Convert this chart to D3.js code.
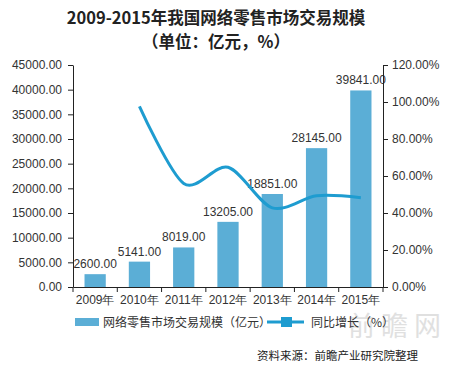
<!DOCTYPE html>
<html><head><meta charset="utf-8">
<script src="https://cdn.jsdelivr.net/npm/d3@7"></script>
<style>body{margin:0;background:#fff;} svg{display:block;}</style>
</head><body>
<script>
const years = ["2009年","2010年","2011年","2012年","2013年","2014年","2015年"];
const sales = [2600, 5141, 8019, 13205, 18851, 28145, 39841];
const growthYears = ["2010年","2011年","2012年","2013年","2014年","2015年"];
const growth = [97.7, 56.0, 64.7, 42.8, 49.3, 48.3];
const leftTicks = [0,5000,10000,15000,20000,25000,30000,35000,40000,45000];
const rightTicks = [0,20,40,60,80,100,120];

(function(){
const W=463,H=366;
const svg=d3.select("body").append("svg").attr("width",W).attr("height",H)
  .style("font-family","'Liberation Sans', Arial, 'Noto Sans CJK SC', sans-serif");
const pL=73,pR=383,pT=65,pB=287;
const x=d3.scaleBand().domain(years).range([pL,pR]).paddingInner(0.52).paddingOuter(0.26);
const y=d3.scaleLinear().domain([0,45000]).range([pB,pT]);
const y2=d3.scaleLinear().domain([0,120]).range([pB,pT]);
const barColor="#5BAED6", lineColor="#1E9CD0", txt="#333";

// title
svg.append("text").attr("x",216).attr("y",24).attr("text-anchor","middle")
  .style("font-family","'Noto Sans CJK SC',sans-serif").attr("font-weight","bold").attr("font-size",16.5).attr("fill","#222")
  .text("2009-2015年我国网络零售市场交易规模");
svg.append("text").attr("x",216).attr("y",48).attr("text-anchor","middle")
  .style("font-family","'Noto Sans CJK SC',sans-serif").attr("font-weight","bold").attr("font-size",16.5).attr("fill","#222")
  .text("（单位：亿元，%）");

// watermark
svg.append("text").attr("x",348).attr("y",336).style("font-family","'Noto Sans CJK SC',sans-serif")
  .attr("font-size",27).attr("fill","#c8c8c8").attr("opacity",0.55).attr("letter-spacing",6).text("前瞻网");

// bars
svg.append("g").selectAll("rect").data(sales).join("rect")
  .attr("x",(d,i)=>x(years[i])).attr("width",x.bandwidth())
  .attr("y",d=>y(d)).attr("height",d=>pB-y(d)).attr("fill",barColor);
svg.append("g").selectAll("text").data(sales).join("text")
  .attr("x",(d,i)=>x(years[i])+x.bandwidth()/2).attr("y",d=>y(d)-6)
  .attr("text-anchor","middle").attr("font-size",12).attr("fill",txt)
  .text(d=>d3.format(".2f")(d));

// axes
const axL=svg.append("g").attr("transform",`translate(${pL},0)`)
  .call(d3.axisLeft(y).tickValues(leftTicks).tickFormat(d3.format(".2f")).tickSize(5).tickPadding(6).tickSizeOuter(0));
const axR=svg.append("g").attr("transform",`translate(${pR},0)`)
  .call(d3.axisRight(y2).tickValues(rightTicks).tickFormat(d=>d3.format(".2f")(d)+"%").tickSize(5).tickPadding(4).tickSizeOuter(0));
const axB=svg.append("g").attr("transform",`translate(0,${pB})`)
  .call(d3.axisBottom(x).tickSize(0).tickPadding(8).tickSizeOuter(0));
const step=x.step();
svg.append("g").selectAll("line").data(d3.range(years.length+1)).join("line")
  .attr("x1",i=>pL+i*step).attr("x2",i=>pL+i*step).attr("y1",pB).attr("y2",pB+5)
  .attr("stroke","#222");
[axL,axR,axB].forEach(g=>{
  g.selectAll("path,line").attr("stroke","#222");
  g.selectAll("text").attr("font-size",12).attr("fill",txt);
});

// line
const line=d3.line().x((d,i)=>x(growthYears[i])+x.bandwidth()/2).y(d=>y2(d)).curve(d3.curveCardinal.tension(0.1));
svg.append("path").datum(growth).attr("d",line).attr("fill","none").attr("stroke",lineColor).attr("stroke-width",3);

// legend
svg.append("rect").attr("x",75).attr("y",318).attr("width",24).attr("height",8).attr("fill",barColor);
svg.append("text").attr("x",103).attr("y",327).attr("font-size",12).attr("fill",txt)
  .style("font-family","'Noto Sans CJK SC',sans-serif").text("网络零售市场交易规模（亿元）");
svg.append("line").attr("x1",267).attr("x2",304).attr("y1",322).attr("y2",322).attr("stroke",lineColor).attr("stroke-width",3);
svg.append("rect").attr("x",281).attr("y",317).attr("width",11).attr("height",10).attr("fill",lineColor);
svg.append("text").attr("x",311).attr("y",327).attr("font-size",12).attr("fill",txt)
  .style("font-family","'Noto Sans CJK SC',sans-serif").text("同比增长（%）");

// source
svg.append("text").attr("x",418).attr("y",360).attr("text-anchor","end").attr("font-size",11.5).attr("fill","#222")
  .style("font-family","'Noto Sans CJK SC',sans-serif").text("资料来源：前瞻产业研究院整理");
})();
</script>
</body></html>
